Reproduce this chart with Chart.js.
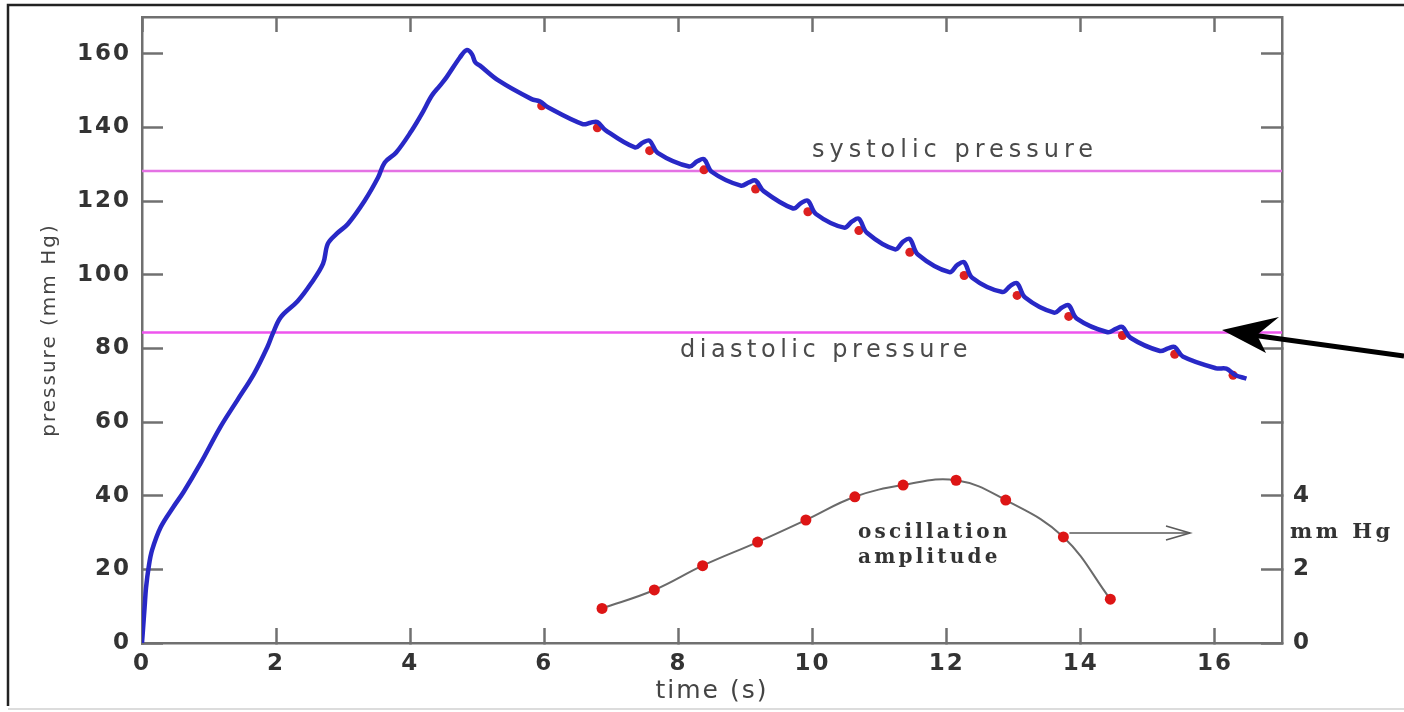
<!DOCTYPE html>
<html><head><meta charset="utf-8">
<script src="https://cdn.jsdelivr.net/npm/chart.js@4/dist/chart.umd.min.js"></script>
<style>html,body{margin:0;padding:0;background:#fff}#wrap{width:1404px;height:712px;position:relative}</style>
</head><body><div id="wrap"><canvas id="c" width="1404" height="712"></canvas></div>
<script>
// ---- data ----
const pressureTime = [0, 0.02, 0.04, 0.06, 0.10, 0.15, 0.28, 0.47, 0.62, 0.87, 1.17, 1.42, 1.67, 1.87, 1.95, 2.07, 2.32, 2.52, 2.70, 2.77, 2.90, 3.07, 3.32, 3.52, 3.62, 3.79, 4.02, 4.17, 4.32, 4.44, 4.54, 4.74, 4.84, 4.92, 4.97, 5.04, 5.32, 5.81,
  5.93, 6.06,
  6.57, 6.69, 6.79, 6.91,
  7.35, 7.47, 7.57, 7.69,
  8.16, 8.28, 8.38, 8.50,
  8.93, 9.05, 9.15, 9.27,
  9.71, 9.83, 9.93, 10.05,
  10.47, 10.59, 10.69, 10.81,
  11.23, 11.35, 11.45, 11.57,
  12.04, 12.16, 12.26, 12.38,
  12.83, 12.95, 13.05, 13.17,
  13.60, 13.72, 13.82, 13.94,
  14.40, 14.52, 14.62, 14.74,
  15.18, 15.30, 15.40, 15.52,
  16.02, 16.17, 16.30, 16.47];
const pressureValue = [0, 5, 10, 15, 20.7, 25.2, 31.5, 37, 41, 48.7, 58.7, 65.9, 73.1, 80.4, 84, 88.5, 92.8, 97.6, 103, 108.4, 111.1, 113.8, 120.1, 126.4, 130.5, 133.2, 139.1, 143.6, 148.6, 151.3, 153.6, 159, 161, 159.9, 157.7, 156.8, 152.7, 147.7,
  147.1, 145.4,
  140.9, 141.3, 141.5, 139.3,
  134.6, 135.9, 136.4, 133.1,
  129.4, 130.8, 131.4, 127.9,
  124.2, 125.1, 125.6, 122.7,
  118.0, 119.5, 120.1, 116.5,
  112.8, 114.5, 115.2, 111.4,
  106.9, 109.0, 109.7, 105.5,
  100.7, 102.7, 103.4, 99.2,
  95.3, 97.0, 97.7, 93.8,
  89.7, 91.1, 91.7, 88.1,
  84.4, 85.3, 85.8, 82.9,
  79.3, 80.0, 80.4, 77.8,
  74.6, 74.5, 72.8, 71.8];
const beatTime = [5.96, 6.79, 7.57, 8.38, 9.15, 9.93, 10.69, 11.45, 12.26, 13.05, 13.82, 14.62, 15.40, 16.27];
const beatPressure = [145.9, 139.9, 133.7, 128.5, 123.3, 117.1, 112.0, 106.1, 99.8, 94.4, 88.7, 83.5, 78.4, 72.7];
const ampTime = [6.86, 7.64, 8.36, 9.18, 9.90, 10.63, 11.35, 12.14, 12.88, 13.74, 14.44];
const ampValue = [0.94, 1.44, 2.10, 2.74, 3.34, 3.97, 4.29, 4.42, 3.88, 2.88, 1.19];
const systolicLevel = 128.2;
const diastolicLevel = 84.3;
const timeRange = [0, 17];
const pressureRange = [0, 170];
const ampRange = [0, 17];
const ampLabelled = [0, 2, 4];
const xTitle = 'time (s)';
const yTitle = 'pressure (mm Hg)';
const systolicText = 'systolic pressure';
const diastolicText = 'diastolic pressure';
const ampText = ['oscillation', 'amplitude'];
const ampUnit = 'mm Hg';

// ---- styles ----
const AX = '#707070';
const TICKFONT = {family: 'DejaVu Sans', size: 23, weight: 'bold'};
const TICKCOL = '#333';
const pts = (xs, ys) => xs.map((x, i) => ({x, y: ys[i]}));
const noPad = s => { s.paddingTop = 0; s.paddingBottom = 0; s.paddingLeft = 0; s.paddingRight = 0; };

const annot = {
  id: 'annot',
  beforeDraw(chart) { chart.ctx.letterSpacing = '2px'; },
  afterDraw(chart) {
    const ctx = chart.ctx;
    const xs = chart.scales.x, ys = chart.scales.y, y2 = chart.scales.y2;
    ctx.save();
    // outer frame
    ctx.strokeStyle = '#222'; ctx.lineWidth = 2.5;
    ctx.beginPath(); ctx.moveTo(8, 706); ctx.lineTo(8, 5); ctx.lineTo(1404, 5); ctx.stroke();
    ctx.strokeStyle = '#d0d0d0'; ctx.lineWidth = 1.5;
    ctx.beginPath(); ctx.moveTo(8, 709); ctx.lineTo(1404, 709); ctx.stroke();

    // level labels
    ctx.fillStyle = '#4a4a4a';
    ctx.textAlign = 'center'; ctx.textBaseline = 'middle';
    ctx.font = '24px "DejaVu Sans"';
    ctx.letterSpacing = '5px';
    ctx.fillText(systolicText, 955, ys.getPixelForValue(systolicLevel) - 20);
    ctx.letterSpacing = '4.5px';
    ctx.fillText(diastolicText, 826, ys.getPixelForValue(diastolicLevel) + 18);

    // amplitude label
    ctx.fillStyle = '#333';
    ctx.textAlign = 'left';
    ctx.font = 'bold 20px "DejaVu Serif"';
    ctx.letterSpacing = '3.2px';
    ctx.fillText(ampText[0], 858, 533);
    ctx.fillText(ampText[1], 858, 558);
    ctx.font = 'bold 21px "DejaVu Serif"';
    ctx.letterSpacing = '3.5px';
    ctx.fillText(ampUnit, 1290, 533);

    // gray arrow from amplitude curve to right axis
    const ax0 = xs.getPixelForValue(ampTime[9]) + 6;
    const ay = y2.getPixelForValue(ampValue[9]) - 4;
    ctx.strokeStyle = '#5a5a5a'; ctx.lineWidth = 1.6;
    ctx.beginPath(); ctx.moveTo(ax0, ay); ctx.lineTo(1190, ay); ctx.stroke();
    ctx.beginPath(); ctx.moveTo(1166, ay - 7); ctx.lineTo(1190, ay); ctx.lineTo(1166, ay + 7); ctx.stroke();

    // black arrow pointing at diastolic line
    ctx.fillStyle = '#000'; ctx.strokeStyle = '#000';
    ctx.lineWidth = 5;
    ctx.beginPath(); ctx.moveTo(1404, 356); ctx.lineTo(1252, 335); ctx.stroke();
    ctx.beginPath();
    ctx.moveTo(1222, 330); ctx.lineTo(1279, 317); ctx.lineTo(1257, 335); ctx.lineTo(1266, 353); ctx.closePath();
    ctx.fill();
    ctx.restore();
    ctx.letterSpacing = '0px';
  }
};

new Chart(document.getElementById('c'), {
  type: 'line',
  data: {
    datasets: [
      {label: 'cuff pressure', data: pts(pressureTime, pressureValue), xAxisID: 'x', yAxisID: 'y',
       borderColor: '#2828c6', borderWidth: 4.5, pointRadius: 0, tension: 0.35, fill: false},
      {label: 'beats', data: pts(beatTime, beatPressure), xAxisID: 'x', yAxisID: 'y',
       showLine: false, pointRadius: 4.5, pointBackgroundColor: '#dd2020', pointBorderWidth: 0},
      {label: 'amp dots', data: pts(ampTime, ampValue), xAxisID: 'x', yAxisID: 'y2',
       showLine: false, pointRadius: 5.5, pointBackgroundColor: '#dd1515', pointBorderWidth: 0},
      {label: 'amplitude', data: pts(ampTime, ampValue), xAxisID: 'x', yAxisID: 'y2',
       borderColor: '#6a6a6a', borderWidth: 2, pointRadius: 0, tension: 0.4},
      {label: 'systolic', data: pts(timeRange, [systolicLevel, systolicLevel]), xAxisID: 'x', yAxisID: 'y',
       borderColor: '#e472e4', borderWidth: 2.5, pointRadius: 0},
      {label: 'diastolic', data: pts(timeRange, [diastolicLevel, diastolicLevel]), xAxisID: 'x', yAxisID: 'y',
       borderColor: '#ee55ee', borderWidth: 2.5, pointRadius: 0}
    ]
  },
  options: {
    responsive: false, animation: false, devicePixelRatio: 1,
    layout: {padding: 0},
    plugins: {legend: {display: false}, tooltip: {enabled: false}},
    scales: {
      x: {type: 'linear', position: 'bottom', min: timeRange[0], max: timeRange[1],
        ticks: {stepSize: 2, includeBounds: false, padding: 22, font: TICKFONT, color: TICKCOL, maxRotation: 0, autoSkip: false},
        grid: {drawOnChartArea: false, tickLength: -15, tickWidth: 2.5, tickColor: AX},
        border: {color: AX, width: 2.5},
        title: {display: true, text: xTitle, color: '#444', font: {family: 'DejaVu Sans', size: 25}, padding: {top: 0, bottom: 6}},
        afterFit: s => { s.height = 69; noPad(s); }},
      x2: {type: 'linear', position: 'top', min: timeRange[0], max: timeRange[1],
        ticks: {display: false, stepSize: 2, includeBounds: false},
        grid: {drawOnChartArea: false, tickLength: -15, tickWidth: 2.5, tickColor: AX},
        border: {color: AX, width: 2.5},
        afterFit: s => { s.height = 17; noPad(s); }},
      y: {type: 'linear', position: 'left', min: pressureRange[0], max: pressureRange[1],
        ticks: {stepSize: 20, includeBounds: false, padding: 32, font: TICKFONT, color: TICKCOL},
        grid: {drawOnChartArea: false, tickLength: -21, tickWidth: 2.5, tickColor: AX},
        border: {color: AX, width: 2.5},
        title: {display: true, text: yTitle, color: '#444', font: {family: 'DejaVu Sans', size: 20}, padding: {top: 38, bottom: 0}},
        afterFit: s => { s.width = 142; noPad(s); }},
      y2: {type: 'linear', position: 'right', min: ampRange[0], max: ampRange[1],
        ticks: {stepSize: 2, includeBounds: false, padding: 32, font: TICKFONT, color: TICKCOL,
          callback: v => ampLabelled.includes(v) ? String(v) : ''},
        grid: {drawOnChartArea: false, tickLength: -21, tickWidth: 2.5, tickColor: AX},
        border: {color: AX, width: 2.5},
        afterFit: s => { s.width = 122; noPad(s); }}
    }
  },
  plugins: [annot]
});
</script></body></html>
